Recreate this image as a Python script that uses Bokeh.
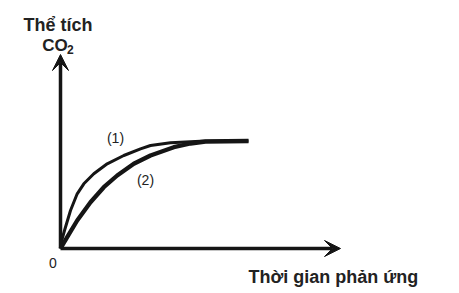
from bokeh.plotting import figure
from bokeh.models import Range1d, Arrow, VeeHead
from bokeh.core.properties import value
from bokeh.embed import file_html
from bokeh.resources import INLINE

# Curve (1): faster reaction
t1 = [0, 0.15, 0.4, 1.0, 1.67, 2.33, 3.33, 4.67, 6.33, 8.0, 9.0, 11.0, 14.0, 18.8]
v1 = [0, 0.9, 1.8, 3.8, 5.47, 6.47, 7.47, 8.47, 9.3, 9.97, 10.3, 10.58, 10.72, 10.75]
# Curve (2): slower reaction
t2 = [0, 0.67, 1.67, 3.0, 4.33, 5.67, 7.33, 9.0, 11.33, 13.0, 14.5, 18.8]
v2 = [0, 1.13, 2.8, 4.63, 6.13, 7.3, 8.47, 9.3, 10.13, 10.5, 10.7, 10.75]

x_axis_end = 28.0
y_axis_end = 19.4

FONT = value("Liberation Sans")
INK = "#151515"

p = figure(width=459, height=293, output_backend="svg", toolbar_location=None,
           x_range=Range1d(-6.0, 39.9), y_range=Range1d(-4.5, 24.8),
           min_border=0, outline_line_color=None)
p.axis.visible = False
p.grid.visible = False
p.background_fill_color = "white"
p.border_fill_color = "white"

p.line(t1, v1, line_color=INK, line_width=3.0, line_join="round")
p.line(t2, v2, line_color=INK, line_width=4.3, line_join="round")

p.add_layout(Arrow(end=VeeHead(size=16, fill_color=INK, line_color=INK, line_width=1),
                   x_start=0, y_start=0, x_end=x_axis_end, y_end=0,
                   line_color=INK, line_width=3.5))
p.add_layout(Arrow(end=VeeHead(size=16, fill_color=INK, line_color=INK, line_width=1),
                   x_start=0, y_start=0, x_end=0, y_end=y_axis_end,
                   line_color=INK, line_width=3.5))

# Titles
p.text(x=[-3.7], y=[22.4], text=["Thể tích"], text_font=FONT, text_font_style="bold",
       text_font_size="18px", text_align="left", text_baseline="alphabetic", text_color="#222222")
p.text(x=[-1.83], y=[20.3], text=["CO"], text_font=FONT, text_font_style="bold",
       text_font_size="17px", text_align="left", text_baseline="alphabetic", text_color="#222222")
p.text(x=[0.65], y=[19.95], text=["2"], text_font=FONT, text_font_style="bold",
       text_font_size="12px", text_align="left", text_baseline="alphabetic", text_color="#222222")
p.text(x=[18.8], y=[-2.87], text=["Thời gian phản ứng"], text_font=FONT, text_font_style="bold",
       text_font_size="18px", text_align="left", text_baseline="alphabetic", text_color="#222222")

# Curve labels and origin
p.text(x=[5.5, 8.5], y=[11.05, 6.85], text=["(1)", "(2)"], text_font=FONT,
       text_font_size="14px", text_align="center", text_baseline="middle", text_color="#222222")
p.text(x=[-0.75], y=[-1.4], text=["0"], text_font=FONT,
       text_font_size="14px", text_align="center", text_baseline="middle", text_color="#222222")

open("out.html", "w").write(file_html(p, INLINE))
